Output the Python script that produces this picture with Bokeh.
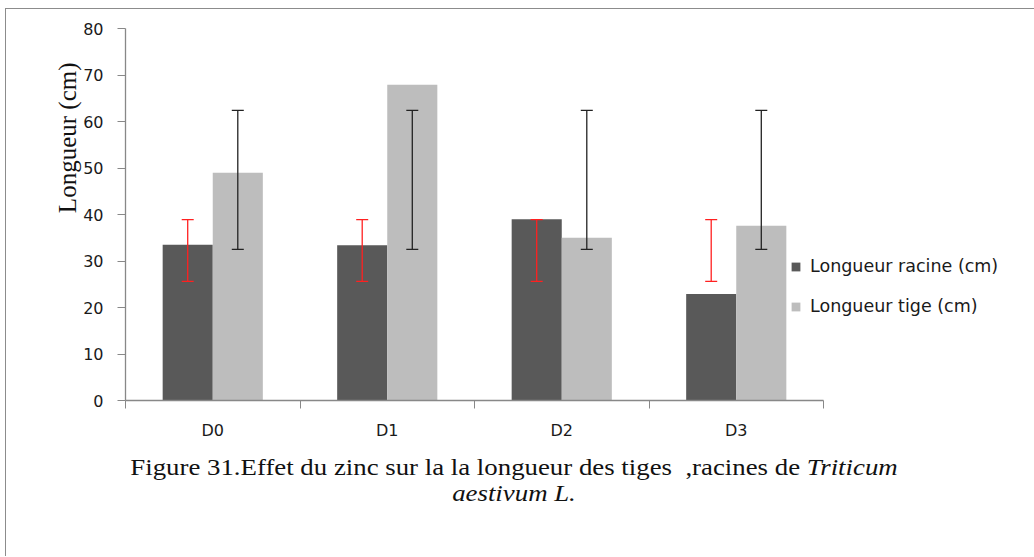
from bokeh.plotting import figure
from bokeh.layouts import column
from bokeh.models import (ColumnDataSource, Range1d, FixedTicker, Whisker, TeeHead,
                          Legend, LegendItem, Title, Div)
from bokeh.transform import dodge
from bokeh.embed import file_html
from bokeh.resources import INLINE

# ---- data ----
categories = ["D0", "D1", "D2", "D3"]
racine = [33.5, 33.4, 39.0, 22.9]          # Longueur racine (cm)
tige = [49.0, 67.9, 35.0, 37.6]            # Longueur tige (cm)
racine_err_low = [25.6, 25.6, 25.6, 25.6]
racine_err_high = [38.9, 38.9, 38.9, 38.9]
tige_err_low = [32.5, 32.5, 32.5, 32.5]
tige_err_high = [62.4, 62.4, 62.4, 62.4]
y_ticks = [0, 10, 20, 30, 40, 50, 60, 70, 80]
series_labels = ["Longueur racine (cm)", "Longueur tige (cm)"]
y_title = "Longueur (cm)"
caption_html = ("Figure 31.Effet du zinc sur la la longueur des tiges &nbsp;,racines de "
                "<i>Triticum</i><br><i>aestivum L.</i>")

src = ColumnDataSource(dict(
    x=[i + 0.5 for i in range(len(categories))],
    cat=categories, racine=racine, tige=tige,
    rl=racine_err_low, rh=racine_err_high,
    tl=tige_err_low, th=tige_err_high,
))

p = figure(frame_width=698, frame_height=372,
           min_border_left=119, min_border_top=19,
           min_border_right=200, min_border_bottom=45,
           x_range=Range1d(0, len(categories)), y_range=Range1d(0, 80),
           output_backend="svg", toolbar_location=None, tools="")

p.outline_line_color = None
p.xgrid.grid_line_color = None
p.ygrid.grid_line_color = None
p.background_fill_color = "white"
p.border_fill_color = "white"

BW = 0.287
r_dark = p.vbar(x=dodge("x", -BW / 2, range=p.x_range), top="racine", width=BW,
                source=src, fill_color="#595959", line_color=None)
r_light = p.vbar(x=dodge("x", BW / 2, range=p.x_range), top="tige", width=BW,
                 source=src, fill_color="#bdbdbd", line_color=None)

w1 = Whisker(source=src, base=dodge("x", -BW / 2, range=p.x_range),
             lower="rl", upper="rh", line_color="#ff2020", line_width=1.3,
             upper_head=TeeHead(size=12, line_color="#ff2020", line_width=1.3),
             lower_head=TeeHead(size=12, line_color="#ff2020", line_width=1.3),
             level="overlay")
w2 = Whisker(source=src, base=dodge("x", BW / 2, range=p.x_range),
             lower="tl", upper="th", line_color="#222222", line_width=1.3,
             upper_head=TeeHead(size=12, line_color="#222222", line_width=1.3),
             lower_head=TeeHead(size=12, line_color="#222222", line_width=1.3),
             level="overlay")
p.add_layout(w1)
p.add_layout(w2)

# x axis: labels at category centres, ticks at category boundaries
xa = p.xaxis[0]
xa.ticker = FixedTicker(ticks=[i + 0.5 for i in range(len(categories))],
                        minor_ticks=list(range(len(categories) + 1)))
xa.major_label_overrides = {i + 0.5: c for i, c in enumerate(categories)}
xa.major_tick_line_color = None
xa.major_tick_out = 0
xa.major_tick_in = 0
xa.minor_tick_line_color = "#888888"
xa.minor_tick_out = 8
xa.minor_tick_in = 0
xa.axis_line_color = "#888888"
xa.axis_line_width = 1.3
xa.major_label_text_font = "DejaVu Sans"
xa.major_label_text_font_size = "16px"
xa.major_label_text_color = "#1a1a1a"
xa.major_label_standoff = 12

ya = p.yaxis[0]
ya.ticker = FixedTicker(ticks=y_ticks)
ya.minor_tick_line_color = None
ya.major_tick_line_color = "#888888"
ya.major_tick_out = 8
ya.major_tick_in = 0
ya.axis_line_color = "#888888"
ya.axis_line_width = 1.3
ya.major_label_text_font = "DejaVu Sans"
ya.major_label_text_font_size = "16px"
ya.major_label_text_color = "#1a1a1a"
ya.major_label_standoff = 14

# y axis title as a side title, pushed toward the top like in the reference
p.add_layout(Title(text=y_title, align="right", offset=34, standoff=0,
                   text_font="Liberation Serif", text_font_size="25px",
                   text_font_style="normal", text_color="#111111"), "left")

legend = Legend(items=[LegendItem(label=series_labels[0], renderers=[r_dark]),
                       LegendItem(label=series_labels[1], renderers=[r_light])],
                location=(-33, 84), orientation="vertical",
                glyph_width=11, glyph_height=11, label_standoff=9,
                label_height=20, spacing=20, padding=0, margin=0,
                border_line_color=None, background_fill_alpha=0,
                label_text_font="DejaVu Sans", label_text_font_size="17.5px",
                label_text_color="#1a1a1a")
p.add_layout(legend, "right")

caption = Div(text=caption_html, width=1006, height=96,
              styles={"text-align": "center", "font-family": "Liberation Serif",
                      "font-size": "23px", "line-height": "26px", "color": "#111111",
                      "margin-top": "10px", "transform": "scaleX(1.166)",
                      "transform-origin": "50% 0"})

layout = column(p, caption,
                styles={"border-top": "1px solid #8c8c8c",
                        "border-left": "1px solid #8c8c8c",
                        "margin-left": "5px", "margin-top": "8px"})

open("out.html", "w").write(file_html(layout, INLINE))
